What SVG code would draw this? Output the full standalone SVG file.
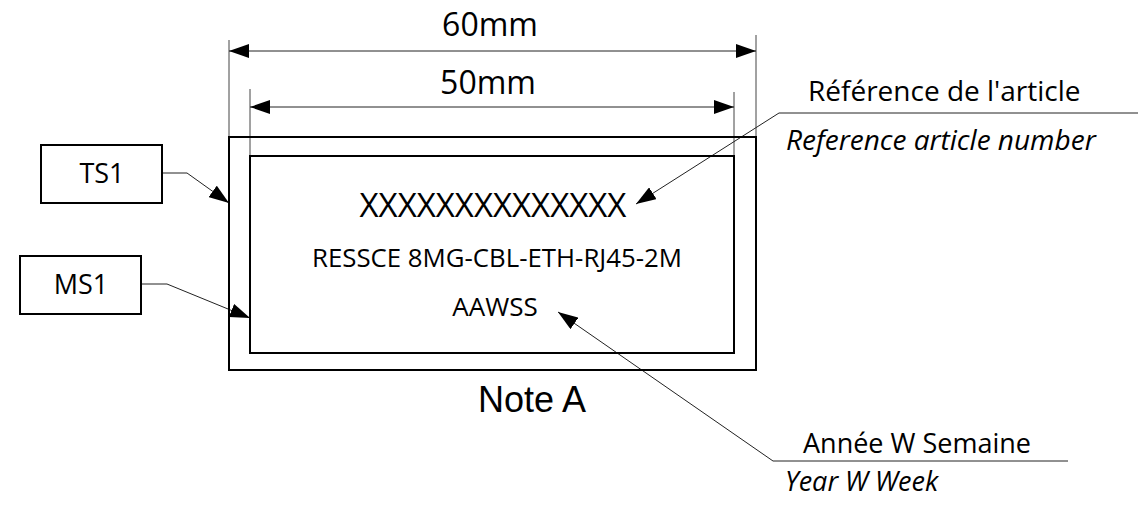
<svg xmlns="http://www.w3.org/2000/svg" width="1144" height="507" viewBox="0 0 1144 507">
<defs>
<marker id="ah" viewBox="0 0 20 14" refX="20" refY="7" markerWidth="20" markerHeight="14" markerUnits="userSpaceOnUse" orient="auto-start-reverse">
<path d="M0,0 L20,7 L0,14 z" fill="#000"/>
</marker>
<style>
.box{fill:#fff;stroke:#000;stroke-width:2}
.frame{fill:none;stroke:#000;stroke-width:2}
.ln{fill:none;stroke:#222;stroke-width:1}
.ext{fill:none;stroke:#444;stroke-width:1}
.t{font-family:"Open Sans","Noto Sans",sans-serif;fill:#000}
.ti{font-family:"Open Sans","Noto Sans",sans-serif;font-style:italic;fill:#000}
.arial{font-family:"Liberation Sans",Arial,sans-serif;fill:#000}
</style>
</defs>
<rect width="1144" height="507" fill="#fff"/>
<g id="connectors">
<line class="ext" x1="229" y1="40" x2="229" y2="137"/>
<line class="ext" x1="756" y1="35" x2="756" y2="137"/>
<line class="ext" x1="250" y1="89" x2="250" y2="156"/>
<line class="ext" x1="734" y1="92" x2="734" y2="156"/>
<line class="ln" x1="229" y1="51" x2="756" y2="51" marker-start="url(#ah)" marker-end="url(#ah)"/>
<line class="ln" x1="250" y1="107" x2="734" y2="107" marker-start="url(#ah)" marker-end="url(#ah)"/>
<polyline class="ln" points="162,173 187,173 229,203" marker-end="url(#ah)"/>
<polyline class="ln" points="141,284 167,284 250,318" marker-end="url(#ah)"/>
<polyline class="ln" points="1138,113 779,113 636,204" marker-end="url(#ah)"/>
<polyline class="ln" points="1068,461 773,461 558,312" marker-end="url(#ah)"/>
</g>
<g id="label">
<rect class="frame" x="229" y="137" width="527" height="233"/>
<rect class="frame" x="250" y="156" width="484" height="197"/>
<text class="t" x="493" y="217" font-size="33" text-anchor="middle">XXXXXXXXXXXXXX</text>
<text class="t" x="497" y="267" font-size="25.8" text-anchor="middle">RESSCE 8MG-CBL-ETH-RJ45-2M</text>
<text class="t" x="495" y="316" font-size="26" text-anchor="middle">AAWSS</text>
</g>
<g id="dim60"><text class="t" x="490" y="36" font-size="32" text-anchor="middle">60mm</text></g>
<g id="dim50"><text class="t" x="488" y="94" font-size="32" text-anchor="middle">50mm</text></g>
<g id="ts1">
<rect class="box" x="41" y="145" width="121" height="58"/>
<text class="t" x="102" y="183" font-size="27" text-anchor="middle">TS1</text>
</g>
<g id="ms1">
<rect class="box" x="20" y="256" width="121" height="58"/>
<text class="t" x="81" y="294" font-size="27" text-anchor="middle">MS1</text>
</g>
<g id="noteA"><text class="arial" x="478" y="412" font-size="36">Note A</text></g>
<g id="ref">
<text class="t" x="808" y="101" font-size="28">Référence de l'article</text>
<text class="ti" x="786" y="150" font-size="28">Reference article number</text>
</g>
<g id="date">
<text class="t" x="803" y="453" font-size="27">Année W Semaine</text>
<text class="ti" x="785" y="491" font-size="27">Year W Week</text>
</g>
</svg>
